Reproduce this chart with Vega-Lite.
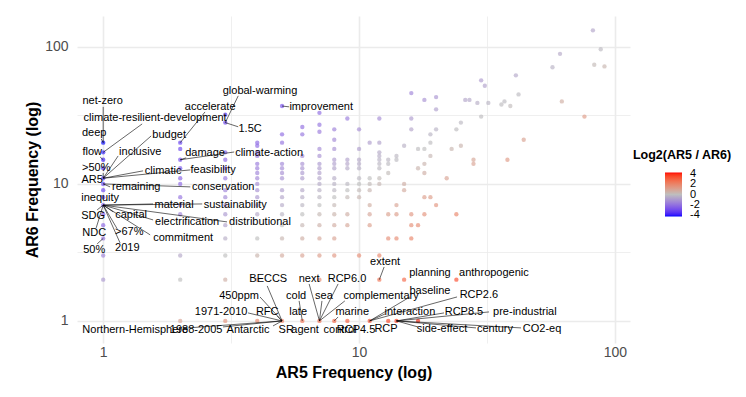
{
  "$schema": "https://vega.github.io/schema/vega-lite/v6.json",
  "width": 553,
  "height": 327,
  "autosize": {"type": "none"},
  "padding": {"left": 77, "top": 16, "right": 116, "bottom": 54},
  "background": "white",
  "config": {"font": "Liberation Sans", "view": {"stroke": null}},
  "datasets": {
    "pts": [
      {"ar5":1,"ar6":20,"lr":-4.32},{"ar5":1,"ar6":17,"lr":-4.09},{"ar5":1,"ar6":15,"lr":-3.91},{"ar5":1,"ar6":13,"lr":-3.7},{"ar5":1,"ar6":11,"lr":-3.46},{"ar5":1,"ar6":10,"lr":-3.32},{"ar5":1,"ar6":9,"lr":-3.17},{"ar5":1,"ar6":8,"lr":-3},{"ar5":1,"ar6":7,"lr":-2.81},{"ar5":1,"ar6":6,"lr":-2.58},{"ar5":1,"ar6":5,"lr":-2.32},{"ar5":1,"ar6":4,"lr":-2},{"ar5":1,"ar6":3,"lr":-1.58},{"ar5":1,"ar6":2,"lr":-1},
      {"ar5":2,"ar6":20,"lr":-3.32},{"ar5":2,"ar6":18,"lr":-3.17},{"ar5":2,"ar6":15,"lr":-2.91},{"ar5":2,"ar6":13,"lr":-2.7},{"ar5":2,"ar6":11,"lr":-2.46},{"ar5":2,"ar6":10,"lr":-2.32},{"ar5":2,"ar6":8,"lr":-2},{"ar5":2,"ar6":7,"lr":-1.81},{"ar5":2,"ar6":6,"lr":-1.58},{"ar5":2,"ar6":3,"lr":-0.58},{"ar5":2,"ar6":2,"lr":0},{"ar5":2,"ar6":1,"lr":1},
      {"ar5":3,"ar6":32,"lr":-3.41},{"ar5":3,"ar6":28,"lr":-3.22},{"ar5":3,"ar6":17,"lr":-2.5},{"ar5":3,"ar6":15,"lr":-2.32},{"ar5":3,"ar6":13,"lr":-2.12},{"ar5":3,"ar6":11,"lr":-1.87},{"ar5":3,"ar6":9,"lr":-1.58},{"ar5":3,"ar6":8,"lr":-1.42},{"ar5":3,"ar6":7,"lr":-1.22},{"ar5":3,"ar6":6,"lr":-1},{"ar5":3,"ar6":5,"lr":-0.74},{"ar5":3,"ar6":4,"lr":-0.42},{"ar5":3,"ar6":3,"lr":0},{"ar5":3,"ar6":2,"lr":0.58},{"ar5":3,"ar6":1,"lr":1.58},
      {"ar5":4,"ar6":20,"lr":-2.32},{"ar5":4,"ar6":19,"lr":-2.25},{"ar5":4,"ar6":17,"lr":-2.09},{"ar5":4,"ar6":16,"lr":-2},{"ar5":4,"ar6":14,"lr":-1.81},{"ar5":4,"ar6":13,"lr":-1.7},{"ar5":4,"ar6":12,"lr":-1.58},{"ar5":4,"ar6":11,"lr":-1.46},{"ar5":4,"ar6":10,"lr":-1.32},{"ar5":4,"ar6":9,"lr":-1.17},{"ar5":4,"ar6":8,"lr":-1},{"ar5":4,"ar6":7,"lr":-0.81},{"ar5":4,"ar6":6,"lr":-0.58},{"ar5":4,"ar6":4,"lr":0},{"ar5":4,"ar6":3,"lr":0.42},{"ar5":4,"ar6":2,"lr":1},{"ar5":4,"ar6":1,"lr":2},
      {"ar5":5,"ar6":37,"lr":-2.89},{"ar5":5,"ar6":23,"lr":-2.2},{"ar5":5,"ar6":20,"lr":-2},{"ar5":5,"ar6":14,"lr":-1.49},{"ar5":5,"ar6":13,"lr":-1.38},{"ar5":5,"ar6":12,"lr":-1.26},{"ar5":5,"ar6":11,"lr":-1.14},{"ar5":5,"ar6":9,"lr":-0.85},{"ar5":5,"ar6":8,"lr":-0.68},{"ar5":5,"ar6":7,"lr":-0.49},{"ar5":5,"ar6":6,"lr":-0.26},{"ar5":5,"ar6":5,"lr":0},{"ar5":5,"ar6":4,"lr":0.32},{"ar5":5,"ar6":3,"lr":0.74},{"ar5":5,"ar6":1,"lr":2.32},
      {"ar5":6,"ar6":26,"lr":-2.12},{"ar5":6,"ar6":23,"lr":-1.94},{"ar5":6,"ar6":16,"lr":-1.42},{"ar5":6,"ar6":14,"lr":-1.22},{"ar5":6,"ar6":13,"lr":-1.12},{"ar5":6,"ar6":12,"lr":-1},{"ar5":6,"ar6":11,"lr":-0.87},{"ar5":6,"ar6":9,"lr":-0.58},{"ar5":6,"ar6":8,"lr":-0.42},{"ar5":6,"ar6":7,"lr":-0.22},{"ar5":6,"ar6":6,"lr":0},{"ar5":6,"ar6":5,"lr":0.26},{"ar5":6,"ar6":4,"lr":0.58},{"ar5":6,"ar6":3,"lr":1},{"ar5":6,"ar6":1,"lr":2.58},
      {"ar5":7,"ar6":33,"lr":-2.24},{"ar5":7,"ar6":27,"lr":-1.95},{"ar5":7,"ar6":24,"lr":-1.78},{"ar5":7,"ar6":18,"lr":-1.36},{"ar5":7,"ar6":16,"lr":-1.19},{"ar5":7,"ar6":14,"lr":-1},{"ar5":7,"ar6":13,"lr":-0.89},{"ar5":7,"ar6":12,"lr":-0.78},{"ar5":7,"ar6":11,"lr":-0.65},{"ar5":7,"ar6":10,"lr":-0.51},{"ar5":7,"ar6":9,"lr":-0.36},{"ar5":7,"ar6":8,"lr":-0.19},{"ar5":7,"ar6":7,"lr":0},{"ar5":7,"ar6":6,"lr":0.22},{"ar5":7,"ar6":5,"lr":0.49},{"ar5":7,"ar6":4,"lr":0.81},{"ar5":7,"ar6":3,"lr":1.22},{"ar5":7,"ar6":2,"lr":1.81},{"ar5":7,"ar6":1,"lr":2.81},
      {"ar5":8,"ar6":25,"lr":-1.64},{"ar5":8,"ar6":21,"lr":-1.39},{"ar5":8,"ar6":18,"lr":-1.17},{"ar5":8,"ar6":15,"lr":-0.91},{"ar5":8,"ar6":14,"lr":-0.81},{"ar5":8,"ar6":13,"lr":-0.7},{"ar5":8,"ar6":11,"lr":-0.46},{"ar5":8,"ar6":10,"lr":-0.32},{"ar5":8,"ar6":9,"lr":-0.17},{"ar5":8,"ar6":8,"lr":0},{"ar5":8,"ar6":7,"lr":0.19},{"ar5":8,"ar6":6,"lr":0.42},{"ar5":8,"ar6":5,"lr":0.68},{"ar5":8,"ar6":4,"lr":1},{"ar5":8,"ar6":3,"lr":1.42},{"ar5":8,"ar6":1,"lr":3},
      {"ar5":9,"ar6":30,"lr":-1.74},{"ar5":9,"ar6":15,"lr":-0.74},{"ar5":9,"ar6":14,"lr":-0.64},{"ar5":9,"ar6":13,"lr":-0.53},{"ar5":9,"ar6":10,"lr":-0.15},{"ar5":9,"ar6":9,"lr":0},{"ar5":9,"ar6":8,"lr":0.17},{"ar5":9,"ar6":6,"lr":0.58},{"ar5":9,"ar6":5,"lr":0.85},{"ar5":9,"ar6":1,"lr":3.17},
      {"ar5":10,"ar6":25,"lr":-1.32},{"ar5":10,"ar6":18,"lr":-0.85},{"ar5":10,"ar6":15,"lr":-0.58},{"ar5":10,"ar6":14,"lr":-0.49},{"ar5":10,"ar6":13,"lr":-0.38},{"ar5":10,"ar6":11,"lr":-0.14},{"ar5":10,"ar6":10,"lr":0},{"ar5":10,"ar6":9,"lr":0.15},{"ar5":10,"ar6":8,"lr":0.32},{"ar5":10,"ar6":3,"lr":1.74},
      {"ar5":11,"ar6":20,"lr":-0.86},{"ar5":11,"ar6":11,"lr":0},{"ar5":11,"ar6":10,"lr":0.14},{"ar5":11,"ar6":9,"lr":0.29},{"ar5":11,"ar6":7,"lr":0.65},{"ar5":11,"ar6":6,"lr":0.87},{"ar5":11,"ar6":5,"lr":1.14},{"ar5":11,"ar6":1,"lr":3.46},
      {"ar5":12,"ar6":30,"lr":-1.32},{"ar5":12,"ar6":20,"lr":-0.74},{"ar5":12,"ar6":17,"lr":-0.5},{"ar5":12,"ar6":16,"lr":-0.42},{"ar5":12,"ar6":15,"lr":-0.32},{"ar5":12,"ar6":14,"lr":-0.22},{"ar5":12,"ar6":13,"lr":-0.12},{"ar5":12,"ar6":11,"lr":0.13},{"ar5":12,"ar6":10,"lr":0.26},{"ar5":12,"ar6":3,"lr":2},{"ar5":12,"ar6":2,"lr":2.58},
      {"ar5":13,"ar6":15,"lr":-0.21},{"ar5":13,"ar6":14,"lr":-0.11},{"ar5":13,"ar6":12,"lr":0.12},{"ar5":13,"ar6":6,"lr":1.12},{"ar5":13,"ar6":4,"lr":1.7},{"ar5":13,"ar6":1,"lr":3.7},
      {"ar5":14,"ar6":16,"lr":-0.19},{"ar5":14,"ar6":15,"lr":-0.1},{"ar5":14,"ar6":7,"lr":1},{"ar5":14,"ar6":6,"lr":1.22},{"ar5":14,"ar6":4,"lr":1.81},{"ar5":14,"ar6":1,"lr":3.81},
      {"ar5":15,"ar6":19,"lr":-0.34},{"ar5":15,"ar6":10,"lr":0.58},{"ar5":15,"ar6":9,"lr":0.74},{"ar5":15,"ar6":2,"lr":2.91},
      {"ar5":16,"ar6":46,"lr":-1.52},{"ar5":16,"ar6":30,"lr":-0.91},{"ar5":16,"ar6":25,"lr":-0.64},{"ar5":16,"ar6":6,"lr":1.42},{"ar5":16,"ar6":5,"lr":1.68},{"ar5":16,"ar6":4,"lr":2},
      {"ar5":17,"ar6":18,"lr":-0.08},{"ar5":17,"ar6":13,"lr":0.39},{"ar5":17,"ar6":5,"lr":1.77},{"ar5":17,"ar6":1,"lr":4.09},
      {"ar5":18,"ar6":41,"lr":-1.19},{"ar5":18,"ar6":18,"lr":0},{"ar5":18,"ar6":14,"lr":0.36},{"ar5":18,"ar6":12,"lr":0.58},{"ar5":18,"ar6":8,"lr":1.17},{"ar5":18,"ar6":6,"lr":1.58},
      {"ar5":19,"ar6":23,"lr":-0.28},{"ar5":19,"ar6":20,"lr":-0.07},{"ar5":19,"ar6":16,"lr":0.25},{"ar5":19,"ar6":8,"lr":1.25},
      {"ar5":20,"ar6":43,"lr":-1.1},{"ar5":20,"ar6":35,"lr":-0.81},{"ar5":20,"ar6":25,"lr":-0.32},{"ar5":20,"ar6":7,"lr":1.51},
      {"ar5":22,"ar6":11,"lr":1},{"ar5":23,"ar6":18,"lr":0.35},{"ar5":24,"ar6":25,"lr":-0.06},{"ar5":24,"ar6":6,"lr":2},{"ar5":24,"ar6":2,"lr":3.58},
      {"ar5":25,"ar6":28,"lr":-0.16},{"ar5":25,"ar6":19,"lr":0.4},{"ar5":26,"ar6":41,"lr":-0.66},{"ar5":27,"ar6":41,"lr":-0.6},{"ar5":28,"ar6":15,"lr":0.9},{"ar5":28,"ar6":14,"lr":1},
      {"ar5":29,"ar6":39,"lr":-0.43},{"ar5":30,"ar6":57,"lr":-0.93},{"ar5":30,"ar6":31,"lr":-0.05},{"ar5":31,"ar6":52,"lr":-0.75},{"ar5":32,"ar6":39,"lr":-0.29},
      {"ar5":36,"ar6":38,"lr":-0.08},{"ar5":37,"ar6":40,"lr":-0.11},{"ar5":38,"ar6":15,"lr":1.34},{"ar5":39,"ar6":37,"lr":0.08},{"ar5":41,"ar6":62,"lr":-0.6},{"ar5":42,"ar6":45,"lr":-0.1},{"ar5":44,"ar6":21,"lr":1.07},
      {"ar5":57,"ar6":71,"lr":-0.32},{"ar5":61,"ar6":89,"lr":-0.54},{"ar5":62,"ar6":40,"lr":0.63},{"ar5":76,"ar6":31,"lr":1.29},{"ar5":82,"ar6":132,"lr":-0.69},{"ar5":83,"ar6":74,"lr":0.17},{"ar5":88,"ar6":96,"lr":-0.13},{"ar5":91,"ar6":72,"lr":0.34}
    ],
    "labels": [
      {"word":"net-zero","x":1,"y":20,"sx":1,"sy":36.5,"tx":0.995,"ty":40.4},
      {"word":"climate-resilient-development","x":1,"y":17,"sx":1.42,"sy":27.4,"tx":1.596,"ty":30.3},
      {"word":"deep","x":1,"y":20,"sx":0.982,"sy":21.3,"tx":0.922,"ty":23.6},
      {"word":"flow","x":1,"y":15,"sx":0.973,"sy":15.7,"tx":0.906,"ty":17.1},
      {"word":"inclusive","x":1,"y":11,"sx":1.144,"sy":16.0,"tx":1.395,"ty":17.1},
      {"word":"budget","x":1,"y":11,"sx":1.54,"sy":22.4,"tx":1.81,"ty":22.8},
      {"word":"accelerate","x":2,"y":20,"sx":2.5,"sy":33.5,"tx":2.618,"ty":36.5},
      {"word":"global-warming","x":3,"y":28,"sx":3.37,"sy":43.9,"tx":4.1,"ty":47.7},
      {"word":"1.5C","x":3,"y":28,"sx":3.37,"sy":26.1,"tx":3.75,"ty":25.2},
      {"word":"damage","x":2,"y":15,"sx":2.11,"sy":15.5,"tx":2.5,"ty":16.8},
      {"word":"climate-action","x":2,"y":15,"sx":3.25,"sy":17.1,"tx":4.45,"ty":16.8},
      {"word":">50%","x":1,"y":11,"sx":1,"sy":12.0,"tx":0.939,"ty":13.1},
      {"word":"climatic","x":1,"y":11,"sx":1.432,"sy":12.45,"tx":1.714,"ty":12.45},
      {"word":"feasibility","x":1,"y":11,"sx":2.19,"sy":12.65,"tx":2.69,"ty":12.65},
      {"word":"AR5","x":1,"y":11,"sx":1,"sy":11,"tx":0.906,"ty":10.7},
      {"word":"remaining","x":1,"y":10,"sx":1.064,"sy":9.51,"tx":1.346,"ty":9.51},
      {"word":"conservation","x":1,"y":10,"sx":2.19,"sy":9.51,"tx":2.944,"ty":9.51},
      {"word":"inequity","x":1,"y":7,"sx":1,"sy":7,"tx":0.973,"ty":7.91},
      {"word":"material","x":1,"y":7,"sx":1.567,"sy":7.14,"tx":1.892,"ty":7.03},
      {"word":"sustainability","x":1,"y":7,"sx":2.438,"sy":7.14,"tx":3.28,"ty":7.03},
      {"word":"SDG","x":1,"y":7,"sx":0.947,"sy":6.46,"tx":0.914,"ty":5.83},
      {"word":"capital","x":1,"y":7,"sx":1.094,"sy":6.25,"tx":1.285,"ty":5.94},
      {"word":"electrification","x":1,"y":7,"sx":1.567,"sy":5.46,"tx":2.128,"ty":5.28},
      {"word":"distributional","x":1,"y":7,"sx":3.048,"sy":5.28,"tx":4.1,"ty":5.28},
      {"word":"NDC","x":1,"y":7,"sx":0.939,"sy":4.775,"tx":0.922,"ty":4.385},
      {"word":">67%","x":1,"y":7,"sx":1.134,"sy":4.7,"tx":1.264,"ty":4.467},
      {"word":"commitment","x":1,"y":7,"sx":1.526,"sy":4.246,"tx":2.053,"ty":4.036},
      {"word":"50%","x":1,"y":4,"sx":0.947,"sy":3.648,"tx":0.922,"ty":3.296},
      {"word":"2019","x":1,"y":7,"sx":1.164,"sy":3.707,"tx":1.242,"ty":3.41},
      {"word":"improvement","x":5,"y":37,"sx":5.33,"sy":36.5,"tx":7.11,"ty":36.5},
      {"word":"BECCS","x":5,"y":1,"sx":4.375,"sy":1.8,"tx":4.416,"ty":2.026},
      {"word":"450ppm","x":5,"y":1,"sx":4.1,"sy":1.496,"tx":3.396,"ty":1.522},
      {"word":"1971-2010","x":5,"y":1,"sx":3.68,"sy":1.144,"tx":2.89,"ty":1.163},
      {"word":"RFC","x":5,"y":1,"sx":4.786,"sy":1.088,"tx":4.375,"ty":1.163},
      {"word":"Northern-Hemisphere","x":5,"y":1,"sx":2.148,"sy":0.889,"tx":1.334,"ty":0.86},
      {"word":"1988-2005","x":5,"y":1,"sx":2.94,"sy":0.904,"tx":2.307,"ty":0.86},
      {"word":"Antarctic","x":5,"y":1,"sx":4.61,"sy":0.919,"tx":3.68,"ty":0.86},
      {"word":"SR","x":5,"y":1,"sx":5,"sy":1,"tx":5.19,"ty":0.86},
      {"word":"cold","x":6,"y":1,"sx":5.83,"sy":1.4,"tx":5.675,"ty":1.522},
      {"word":"late","x":6,"y":1,"sx":6,"sy":1,"tx":5.78,"ty":1.163},
      {"word":"next","x":7,"y":1,"sx":6.38,"sy":1.862,"tx":6.38,"ty":2.026},
      {"word":"RCP6.0","x":7,"y":1,"sx":8.28,"sy":1.862,"tx":8.97,"ty":2.026},
      {"word":"sea","x":7,"y":1,"sx":7.16,"sy":1.4,"tx":7.29,"ty":1.522},
      {"word":"complementary","x":7,"y":1,"sx":8.8,"sy":1.4,"tx":12.19,"ty":1.522},
      {"word":"agent","x":7,"y":1,"sx":7,"sy":1,"tx":6.15,"ty":0.86},
      {"word":"marine","x":8,"y":1,"sx":8.28,"sy":1.069,"tx":9.4,"ty":1.163},
      {"word":"control","x":8,"y":1,"sx":8,"sy":1,"tx":8.43,"ty":0.86},
      {"word":"RCP4.5","x":9,"y":1,"sx":9,"sy":1,"tx":9.73,"ty":0.86},
      {"word":"RCP","x":11,"y":1,"sx":11,"sy":1,"tx":12.74,"ty":0.875},
      {"word":"extent","x":12,"y":2,"sx":12.53,"sy":2.477,"tx":12.64,"ty":2.698},
      {"word":"planning","x":15,"y":2,"sx":15,"sy":2,"tx":18.92,"ty":2.239},
      {"word":"anthropogenic","x":24,"y":2,"sx":24,"sy":2,"tx":33.65,"ty":2.239},
      {"word":"baseline","x":11,"y":1,"sx":15.8,"sy":1.496,"tx":18.92,"ty":1.656},
      {"word":"RCP2.6","x":11,"y":1,"sx":24.15,"sy":1.496,"tx":29.4,"ty":1.549},
      {"word":"interaction","x":11,"y":1,"sx":12.64,"sy":1.125,"tx":15.8,"ty":1.163},
      {"word":"RCP8.5","x":14,"y":1,"sx":21.48,"sy":1.144,"tx":25.7,"ty":1.163},
      {"word":"pre-industrial","x":14,"y":1,"sx":32.2,"sy":1.163,"tx":44.46,"ty":1.163},
      {"word":"side-effect","x":14,"y":1,"sx":16.98,"sy":0.904,"tx":21.09,"ty":0.875},
      {"word":"century","x":14,"y":1,"sx":28.64,"sy":0.889,"tx":33.96,"ty":0.875},
      {"word":"CO2-eq","x":14,"y":1,"sx":42.95,"sy":0.889,"tx":51.9,"ty":0.875}
    ]
  },
  "layer": [
    {
      "data": {"name": "pts"},
      "mark": {"type": "circle", "size": 19, "fillOpacity": 0.65},
      "encoding": {
        "x": {"field": "ar5", "type": "quantitative",
          "scale": {"type": "log", "domain": [0.79, 114.5], "nice": false},
          "axis": {"values": [1, 3.1623, 10, 31.623, 100], "format": "d",
            "labelExpr": "(datum.value === 1 || datum.value === 10 || datum.value === 100) ? datum.label : ''",
            "title": "AR5 Frequency (log)", "titleFontSize": 16, "titleFontWeight": "bold", "titleColor": "black", "titlePadding": 5,
            "labelFontSize": 14, "labelColor": "#4d4d4d", "labelPadding": 2, "labelFlush": false,
            "ticks": false, "domain": false, "grid": true, "gridColor": "#ebebeb",
            "gridWidth": {"condition": {"test": "datum.value === 1 || datum.value === 10 || datum.value === 100", "value": 1.6}, "value": 0.8}}},
        "y": {"field": "ar6", "type": "quantitative",
          "scale": {"type": "log", "domain": [0.69, 168], "nice": false},
          "axis": {"values": [1, 3.1623, 10, 31.623, 100], "format": "d",
            "labelExpr": "(datum.value === 1 || datum.value === 10 || datum.value === 100) ? datum.label : ''",
            "title": "AR6 Frequency (log)", "titleFontSize": 16, "titleFontWeight": "bold", "titleColor": "black", "titlePadding": 4,
            "labelFontSize": 14, "labelColor": "#4d4d4d", "labelPadding": 9, "labelFlush": false,
            "ticks": false, "domain": false, "grid": true, "gridColor": "#ebebeb",
            "gridWidth": {"condition": {"test": "datum.value === 1 || datum.value === 10 || datum.value === 100", "value": 1.6}, "value": 0.8}}},
        "color": {"field": "lr", "type": "quantitative",
          "scale": {"domain": [-4.32, 0, 4.32], "range": ["#0000ff", "#bebebe", "#ff0000"], "interpolate": "lab"},
          "legend": {"orient": "none", "legendX": 556, "legendY": 133, "direction": "vertical",
            "title": "Log2(AR5 / AR6)", "titleFontSize": 12.5, "titleFontWeight": "bold", "titleColor": "black",
            "titleAnchor": "middle", "titlePadding": 11,
            "gradientLength": 44, "gradientThickness": 17, "gradientStrokeWidth": 0,
            "values": [4, 2, 0, -2, -4], "labelExpr": "'' + datum.value",
            "labelFontSize": 11, "labelColor": "black", "labelOverlap": false, "labelOffset": 8}}
      }
    },
    {
      "data": {"name": "labels"},
      "mark": {"type": "rule", "color": "black", "strokeWidth": 0.6},
      "encoding": {
        "x": {"field": "x", "type": "quantitative"},
        "y": {"field": "y", "type": "quantitative"},
        "x2": {"field": "sx"},
        "y2": {"field": "sy"}
      }
    },
    {
      "data": {"name": "labels"},
      "mark": {"type": "text", "fontSize": 11, "color": "black", "align": "center", "baseline": "middle"},
      "encoding": {
        "x": {"field": "tx", "type": "quantitative"},
        "y": {"field": "ty", "type": "quantitative"},
        "text": {"field": "word"}
      }
    }
  ]
}
